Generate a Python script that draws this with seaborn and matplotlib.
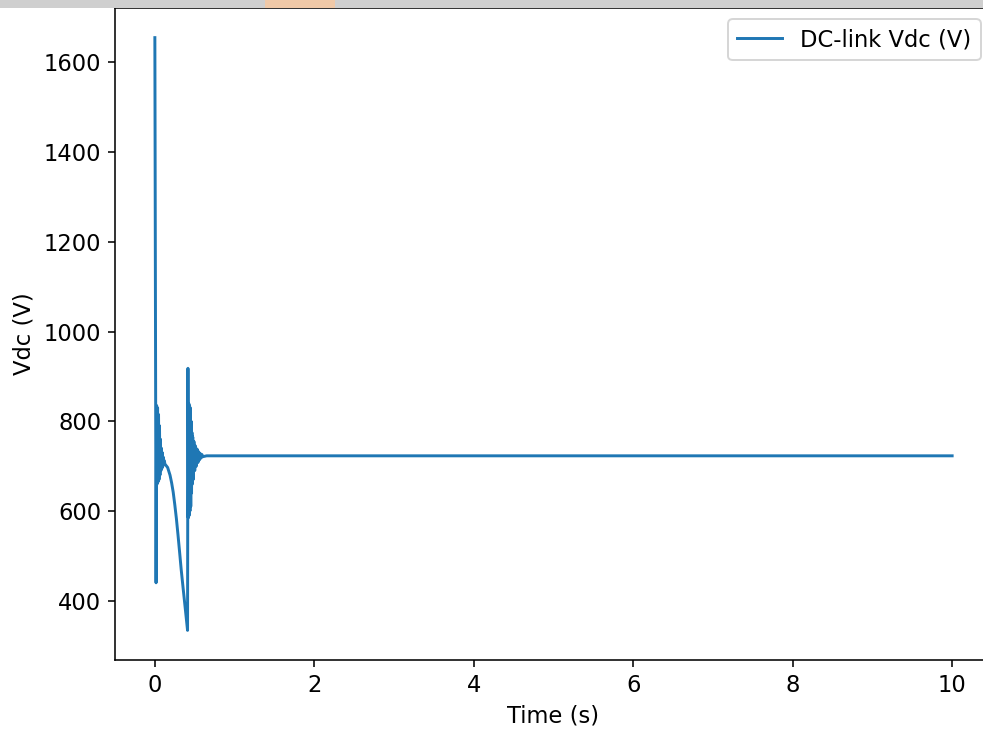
import matplotlib
matplotlib.use('Agg')
import matplotlib.pyplot as plt
import matplotlib.patches as mpatches
import pandas as pd
import seaborn as sns

# DC-link voltage (start-up spike, sag, load step, settle)
time_s = [0.000, 0.015, 0.022, 0.028, 0.034, 0.040, 0.046, 0.052, 0.058, 0.064,
          0.070, 0.076, 0.082, 0.088, 0.094, 0.100, 0.106, 0.112, 0.120, 0.125,
          0.160, 0.190, 0.210, 0.230, 0.250, 0.270, 0.290, 0.310, 0.330, 0.355,
          0.380, 0.410,
          0.415, 0.420, 0.425, 0.430, 0.435, 0.440, 0.445, 0.450, 0.455, 0.460,
          0.465, 0.470, 0.475, 0.480, 0.490, 0.500, 0.510, 0.520, 0.530, 0.540,
          0.550, 0.560, 0.570, 0.580, 0.590, 0.600, 0.650, 10.000]
vdc = [1655, 440, 835, 660, 830, 665, 815, 670, 790, 680,
       760, 690, 740, 695, 730, 700, 720, 703, 712, 705,
       697, 680, 663, 642, 614, 583, 547, 509, 470, 427,
       385, 334,
       918, 585, 840, 590, 835, 600, 830, 610, 800, 640,
       775, 660, 765, 670, 755, 690, 745, 700, 738, 708,
       732, 714, 728, 718, 726, 721, 723, 723]

df = pd.DataFrame({'Time (s)': time_s, 'Vdc (V)': vdc})

plt.rcParams['font.size'] = 11.5

dpi = 141.4
fig = plt.figure(figsize=(983 / dpi, 735 / dpi), dpi=dpi)
# axes run past the right edge: the reference is a cropped screenshot
ax = fig.add_axes([115 / 983, 75 / 735, 877 / 983, 652 / 735])

sns.lineplot(data=df, x='Time (s)', y='Vdc (V)', ax=ax, estimator=None, sort=False,
             color='#1f77b4', linewidth=1.5, label='DC-link Vdc (V)')

ax.set_xticks([0, 2, 4, 6, 8, 10])
ax.set_yticks([400, 600, 800, 1000, 1200, 1400, 1600])
ax.set_xlabel('Time (s)')
ax.set_ylabel('Vdc (V)')
ax.spines['right'].set_visible(False)
ax.legend(loc='upper right')

# grey watermark strip along the top edge of the screenshot
fig.patches.append(mpatches.Rectangle((0, 1 - 8 / 735), 1, 8 / 735, transform=fig.transFigure,
                                      facecolor='#cfcfcf', edgecolor='none', zorder=5))
fig.patches.append(mpatches.Rectangle((265 / 983, 1 - 8 / 735), 70 / 983, 8 / 735,
                                      transform=fig.transFigure, facecolor='#f0c9a8',
                                      edgecolor='none', zorder=6))

fig.savefig('out.png', dpi=dpi)
